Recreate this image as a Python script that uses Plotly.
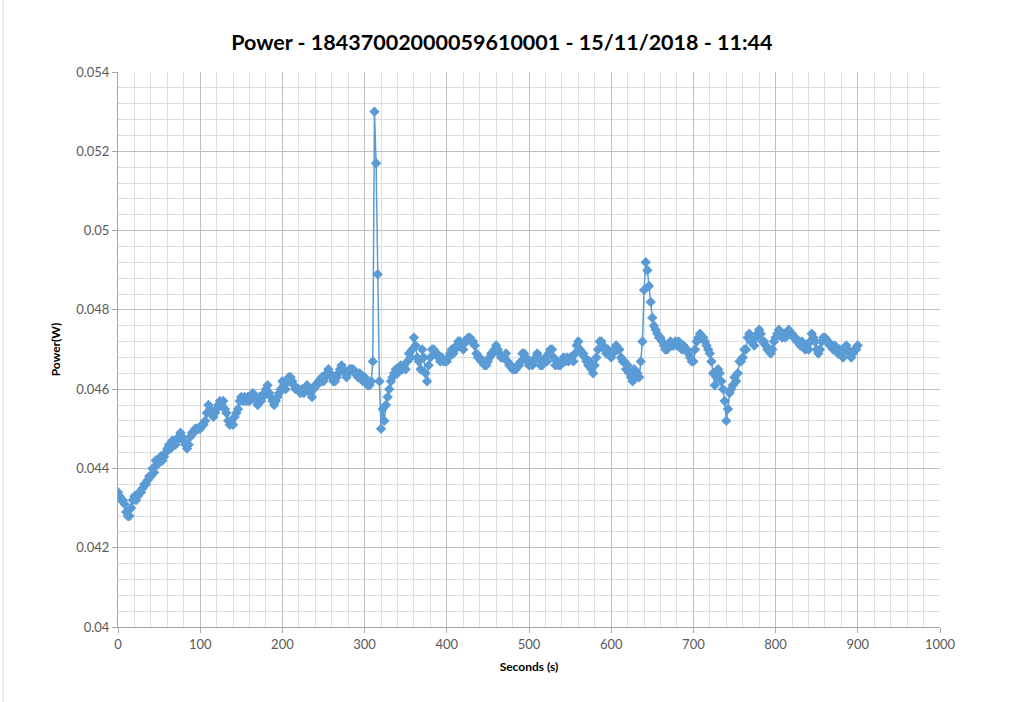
import plotly.graph_objects as go

# Sampling interval in seconds
SAMPLE_STEP = 2

power_w = [
    # 0-18 s
    0.0434, 0.0433, 0.0432, 0.0432, 0.0431, 0.0429, 0.0428, 0.0428, 0.0430, 0.0432,
    # 20-38
    0.0433, 0.0432, 0.0433, 0.0434, 0.0434, 0.0435, 0.0436, 0.0436, 0.0437, 0.0438,
    # 40-58
    0.0438, 0.0440, 0.0439, 0.0442, 0.0441, 0.0442, 0.0443, 0.0442, 0.0443, 0.0444,
    # 60-78
    0.0445, 0.0446, 0.0445, 0.0447, 0.0447, 0.0446, 0.0447, 0.0448, 0.0449, 0.0448,
    # 80-98
    0.0447, 0.0446, 0.0445, 0.0446, 0.0448, 0.0449, 0.0449, 0.0450, 0.0450, 0.0450,
    # 100-118
    0.0450, 0.0451, 0.0451, 0.0452, 0.0454, 0.0456, 0.0455, 0.0454, 0.0453, 0.0454,
    # 120-138
    0.0455, 0.0456, 0.0457, 0.0456, 0.0457, 0.0455, 0.0454, 0.0452, 0.0451, 0.0452,
    # 140-158
    0.0451, 0.0453, 0.0454, 0.0455, 0.0457, 0.0458, 0.0457, 0.0458, 0.0457, 0.0458,
    # 160-178
    0.0457, 0.0458, 0.0459, 0.0458, 0.0457, 0.0456, 0.0458, 0.0457, 0.0458, 0.0459,
    # 180-198
    0.0460, 0.0461, 0.0459, 0.0458, 0.0457, 0.0456, 0.0457, 0.0458, 0.0459, 0.0460,
    # 200-218
    0.0462, 0.0461, 0.0460, 0.0462, 0.0463, 0.0463, 0.0462, 0.0461, 0.0460, 0.0460,
    # 220-238
    0.0460, 0.0459, 0.0460, 0.0459, 0.0460, 0.0461, 0.0460, 0.0459, 0.0458, 0.0460,
    # 240-258
    0.0461, 0.0461, 0.0462, 0.0462, 0.0463, 0.0462, 0.0463, 0.0464, 0.0465, 0.0464,
    # 260-278
    0.0463, 0.0462, 0.0462, 0.0463, 0.0464, 0.0465, 0.0466, 0.0465, 0.0464, 0.0463,
    # 280-298
    0.0464, 0.0465, 0.0465, 0.0465, 0.0464, 0.0464, 0.0463, 0.0464, 0.0463, 0.0462,
    # 300-318
    0.0463, 0.0462, 0.0461, 0.0461, 0.0462, 0.0467, 0.0530, 0.0517, 0.0489, 0.0462,
    # 320-338
    0.0450, 0.0455, 0.0452, 0.0456, 0.0458, 0.0460, 0.0462, 0.0463, 0.0464, 0.0465,
    # 340-358
    0.0464, 0.0465, 0.0466, 0.0465, 0.0466, 0.0465, 0.0467, 0.0469, 0.0468, 0.0470,
    # 360-378
    0.0473, 0.0471, 0.0468, 0.0467, 0.0465, 0.0470, 0.0468, 0.0464, 0.0462, 0.0466,
    # 380-398
    0.0468, 0.0470, 0.0470, 0.0469, 0.0469, 0.0468, 0.0467, 0.0468, 0.0467, 0.0467,
    # 400-418
    0.0467, 0.0468, 0.0469, 0.0470, 0.0469, 0.0470, 0.0471, 0.0472, 0.0472, 0.0471,
    # 420-438
    0.0470, 0.0472, 0.0472, 0.0473, 0.0473, 0.0472, 0.0472, 0.0471, 0.0469, 0.0468,
    # 440-458
    0.0468, 0.0467, 0.0467, 0.0466, 0.0466, 0.0467, 0.0468, 0.0469, 0.0469, 0.0470,
    # 460-478
    0.0471, 0.0470, 0.0469, 0.0468, 0.0468, 0.0468, 0.0469, 0.0467, 0.0466, 0.0466,
    # 480-498
    0.0465, 0.0465, 0.0465, 0.0466, 0.0466, 0.0467, 0.0469, 0.0469, 0.0468, 0.0467,
    # 500-518
    0.0466, 0.0467, 0.0466, 0.0467, 0.0468, 0.0469, 0.0468, 0.0466, 0.0466, 0.0467,
    # 520-538
    0.0468, 0.0467, 0.0469, 0.0470, 0.0470, 0.0468, 0.0466, 0.0467, 0.0466, 0.0466,
    # 540-558
    0.0467, 0.0468, 0.0467, 0.0468, 0.0467, 0.0468, 0.0468, 0.0467, 0.0469, 0.0471,
    # 560-578
    0.0472, 0.0470, 0.0469, 0.0469, 0.0468, 0.0467, 0.0466, 0.0467, 0.0465, 0.0464,
    # 580-598
    0.0466, 0.0468, 0.0470, 0.0472, 0.0472, 0.0471, 0.0470, 0.0469, 0.0470, 0.0469,
    # 600-618
    0.0468, 0.0469, 0.0470, 0.0471, 0.0470, 0.0470, 0.0468, 0.0467, 0.0467, 0.0465,
    # 620-638
    0.0466, 0.0464, 0.0463, 0.0462, 0.0465, 0.0463, 0.0464, 0.0463, 0.0467, 0.0472,
    # 640-658
    0.0485, 0.0492, 0.0490, 0.0486, 0.0482, 0.0478, 0.0476, 0.0475, 0.0474, 0.0473,
    # 660-678
    0.0473, 0.0472, 0.0471, 0.0470, 0.0470, 0.0471, 0.0472, 0.0471, 0.0471, 0.0472,
    # 680-698
    0.0471, 0.0472, 0.0471, 0.0470, 0.0471, 0.0470, 0.0470, 0.0469, 0.0468, 0.0467,
    # 700-718
    0.0467, 0.0470, 0.0472, 0.0473, 0.0474, 0.0473, 0.0473, 0.0472, 0.0471, 0.0470,
    # 720-738
    0.0469, 0.0467, 0.0464, 0.0461, 0.0463, 0.0465, 0.0464, 0.0462, 0.0460, 0.0457,
    # 740-758
    0.0452, 0.0455, 0.0459, 0.0460, 0.0461, 0.0463, 0.0462, 0.0464, 0.0467, 0.0467,
    # 760-778
    0.0468, 0.0470, 0.0470, 0.0473, 0.0474, 0.0472, 0.0472, 0.0471, 0.0473, 0.0474,
    # 780-798
    0.0475, 0.0474, 0.0472, 0.0472, 0.0471, 0.0470, 0.0470, 0.0469, 0.0470, 0.0472,
    # 800-818
    0.0473, 0.0474, 0.0475, 0.0474, 0.0473, 0.0474, 0.0473, 0.0474, 0.0475, 0.0474,
    # 820-838
    0.0474, 0.0473, 0.0473, 0.0472, 0.0472, 0.0471, 0.0472, 0.0471, 0.0470, 0.0471,
    # 840-858
    0.0470, 0.0472, 0.0474, 0.0473, 0.0472, 0.0470, 0.0469, 0.0470, 0.0472, 0.0473,
    # 860-878
    0.0473, 0.0472, 0.0472, 0.0471, 0.0471, 0.0470, 0.0471, 0.0470, 0.0469, 0.0470,
    # 880-898
    0.0469, 0.0468, 0.0470, 0.0471, 0.0470, 0.0469, 0.0468, 0.0469, 0.0470, 0.0470,
    # 900
    0.0471,
]

seconds = [i * SAMPLE_STEP for i in range(len(power_w))]

title_text = "Power - 18437002000059610001 - 15/11/2018 - 11:44"
x_title = "Seconds (s)"
y_title = "Power(W)"

BLUE = "#5B9BD5"
FONT = "Lato, 'Open Sans', sans-serif"

fig = go.Figure()
fig.add_trace(go.Scatter(
    x=seconds, y=power_w, mode="lines+markers",
    line=dict(color=BLUE, width=1.5),
    marker=dict(symbol="diamond", size=8, color=BLUE),
    showlegend=False,
))

fig.update_layout(
    width=1018, height=702,
    paper_bgcolor="white", plot_bgcolor="white",
    margin=dict(l=118, r=78, t=72, b=75),
    title=dict(text="<b>" + title_text + "</b>", x=0.493, xanchor="center",
               y=0.94, yanchor="middle",
               font=dict(family=FONT, size=21.5, color="#000000")),
    font=dict(family=FONT, color="#595959"),
)

fig.update_xaxes(
    range=[0, 1000], dtick=100, tick0=0,
    showgrid=True, gridcolor="#bfbfbf", gridwidth=1,
    minor=dict(dtick=20, showgrid=True, gridcolor="#dedede", gridwidth=1),
    showline=True, linecolor="#a6a6a6", linewidth=1,
    ticks="outside", ticklen=5, tickcolor="#a6a6a6",
    tickfont=dict(size=13, color="#595959"),
    zeroline=False,
    title=dict(text="<b>" + x_title + "</b>", font=dict(size=12, color="#000000"), standoff=12),
)
fig.update_yaxes(
    range=[0.04, 0.054], dtick=0.002, tick0=0.04,
    showgrid=True, gridcolor="#bfbfbf", gridwidth=1,
    minor=dict(dtick=0.0004, showgrid=True, gridcolor="#dedede", gridwidth=1),
    showline=True, linecolor="#a6a6a6", linewidth=1,
    ticks="outside", ticklen=5, tickcolor="#a6a6a6",
    tickfont=dict(size=13, color="#595959"),
    zeroline=False,
    title=dict(text="<b>" + y_title + "</b>", font=dict(size=12, color="#000000"), standoff=12),
)

# chart border line at left edge (as in the reference image)
fig.add_shape(type="line", xref="paper", yref="paper",
              x0=-115/822, x1=-115/822, y0=-75/555, y1=72/555 + 1,
              line=dict(color="#d9d9d9", width=1))

fig.write_html(
    "out.html",
    config={"displayModeBar": False},
    post_script="document.body.style.margin='0';document.body.style.overflow='hidden';",
)
